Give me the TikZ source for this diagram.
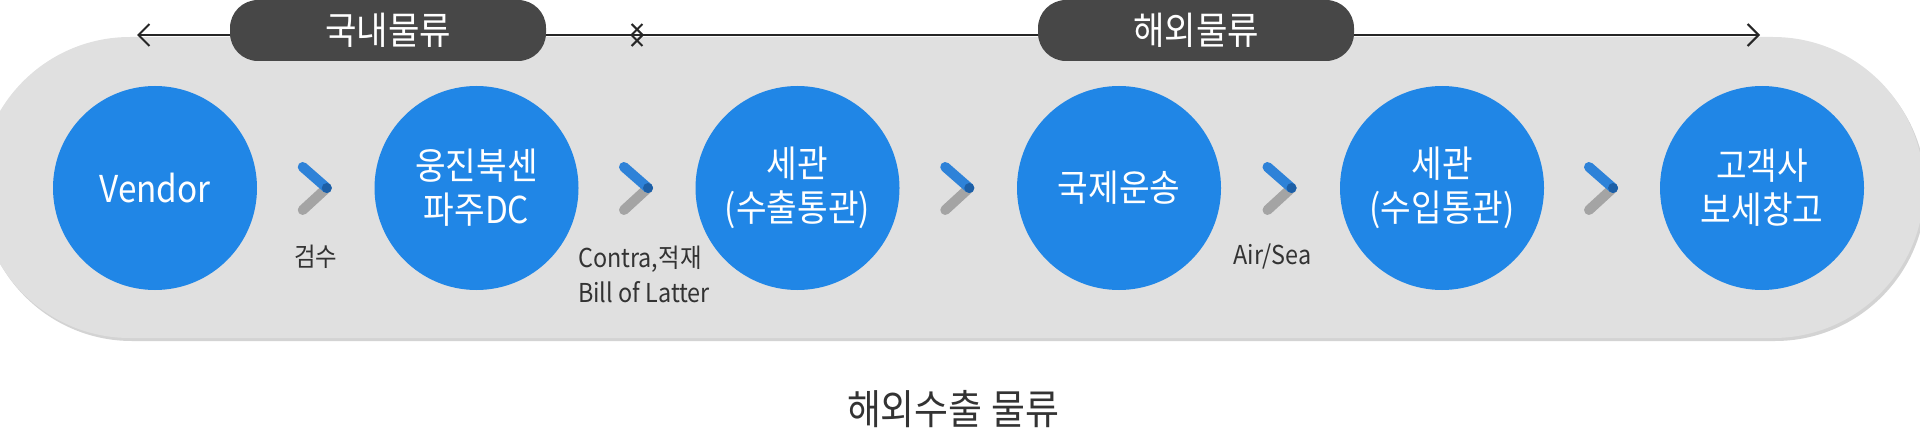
\documentclass[tikz,border=0pt]{standalone}
\usepackage{fontspec}
\setmainfont{Noto Sans CJK KR}[FakeStretch=0.9]
\usetikzlibrary{arrows.meta}
\definecolor{flowBg}{HTML}{E0E0E0}
\definecolor{flowShade}{HTML}{D3D3D3}
\definecolor{flowNode}{HTML}{2086E6}
\definecolor{flowTag}{HTML}{474747}
\definecolor{flowText}{HTML}{333333}
\definecolor{chevBlue}{HTML}{2E82D8}
\definecolor{chevDark}{HTML}{1D5FA6}
\definecolor{chevGray}{HTML}{A4A4A4}
\tikzset{
  flowfig/.style={
    x=0.5pt, y=-0.5pt,
    >={Straight Barb[length=5.5pt, width=11pt]},
  },
  stagenode/.style={
    circle, fill=flowNode, text=white, minimum size=102pt, inner sep=0pt,
    align=center, font=\fontsize{18.5pt}{22pt}\selectfont,
  },
  tagnode/.style={
    fill=flowTag, text=white, rounded corners=14pt,
    minimum width=158pt, minimum height=30.5pt,
    font=\fontsize{19pt}{22pt}\selectfont,
  },
  steplabel/.style={text=flowText, align=left, inner sep=0pt, font=\fontsize{13pt}{17.5pt}\selectfont},
  spanline/.style={draw=black!85, line width=1pt, <->},
  % chevron strokes between the stages
  chevup/.style={draw=chevBlue, line width=5pt, line cap=round},
  chevdown/.style={draw=chevGray, line width=5pt, line cap=round},
}

\begin{document}
\begin{tikzpicture}[flowfig]
  \useasboundingbox (0,0) rectangle (1920,433);
  \fill[flowShade, rounded corners=75.5pt] (-19,40) rectangle (1926,341);
  \fill[flowBg, rounded corners=75.5pt] (-21,37) rectangle (1924,338);

  \coordinate (domL) at (137,35);
  \coordinate (domR) at (644,35);
  \coordinate (ovsL) at (630,35);
  \coordinate (ovsR) at (1760,35);
  \draw[spanline] (domL) -- (domR);
  \draw[spanline] (ovsL) -- (ovsR);
  \node[tagnode] (domtag) at (388,30.5) {국내물류};
  \node[tagnode] (ovstag) at (1196,30.5) {해외물류};

  \node[stagenode] (vendor) at (155,188) {Vendor};
  \node[stagenode] (dc) at (476.5,188) {웅진북센\\파주DC};
  \node[stagenode] (expcustoms) at (797.5,188) {세관\\(수출통관)};
  \node[stagenode] (shipping) at (1119,188) {국제운송};
  \node[stagenode] (impcustoms) at (1442,188) {세관\\(수입통관)};
  \node[stagenode] (customer) at (1762,188) {고객사\\보세창고};

  \path (vendor) -- (dc) coordinate[midway] (m1);
  \path (dc) -- (expcustoms) coordinate[midway] (m2);
  \path (expcustoms) -- (shipping) coordinate[midway] (m3);
  \path (shipping) -- (impcustoms) coordinate[midway] (m4);
  \path (impcustoms) -- (customer) coordinate[midway] (m5);

  \foreach \i in {1,...,5} {
    \draw[chevdown] ([shift={(11,0)}]m\i) -- ([shift={(-13,22)}]m\i);
    \draw[chevup] ([shift={(-13,-21)}]m\i) -- ([shift={(11,0)}]m\i);
    \fill[chevDark] ([shift={(11,0)}]m\i) circle (2.5pt);
  }

  \node[steplabel] (lab1) at ([shift={(0,69)}]m1) {검수};
  \node[steplabel] (lab2) at ([shift={(7,86)}]m2) {Contra,적재\\Bill of Latter};
  \node[steplabel] (lab4) at ([shift={(-8,69)}]m4) {Air/Sea};

  \node[text=flowText, font=\fontsize{20.5pt}{24pt}\selectfont] (title) at (953,409) {해외수출 물류};
\end{tikzpicture}
\end{document}
